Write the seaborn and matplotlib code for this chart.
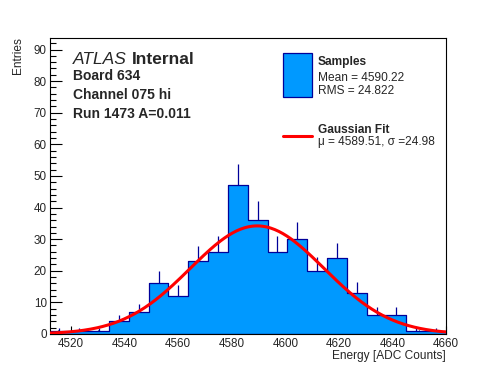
import numpy as np
import pandas as pd
import matplotlib
matplotlib.use('Agg')
import matplotlib.pyplot as plt
from matplotlib.patches import Rectangle
from matplotlib.lines import Line2D
from matplotlib.ticker import MultipleLocator
import seaborn as sns

# histogram data
x_min = 4512
x_max = 4660
n_bins = 20
entries = [1, 1, 1, 4, 7, 16, 12, 23, 26, 47, 36, 26, 30, 20, 24, 13, 6, 6, 1, 1]

# gaussian fit parameters
fit_const = 34.2
fit_mu = 4589.51
fit_sigma = 24.98

label_lines = ['Board 634', 'Channel 075 hi', 'Run 1473 A=0.011']
legend_samples = ['Samples', 'Mean = 4590.22', 'RMS = 24.822']
legend_fit = ['Gaussian Fit', '\u03bc = 4589.51, \u03c3 =24.98']

fill_col = '#0099ff'
line_col = '#000099'

W, H = 496, 372
def fx(px):
    return px / W
def fy(py):
    return 1 - py / H

sns.set_style('ticks')
plt.rcParams['font.family'] = ['Liberation Sans', 'DejaVu Sans']

edges = np.linspace(x_min, x_max, n_bins + 1)
centers = (edges[:-1] + edges[1:]) / 2
df = pd.DataFrame({'energy': centers, 'entries': entries})

fig = plt.figure(figsize=(W / 100, H / 100), dpi=100)
ax = fig.add_axes([fx(49.5), fy(334), 396.5 / W, 296.5 / H])

sns.histplot(data=df, x='energy', weights='entries', bins=n_bins, binrange=(x_min, x_max),
             element='step', fill=True, color=fill_col, edgecolor=line_col, linewidth=0.9,
             alpha=1, ax=ax)

# upper error bars (sqrt N)
err = np.sqrt(df['entries'])
ax.vlines(df['energy'], df['entries'], df['entries'] + err, color=line_col, lw=0.9, zorder=3)

# fit curve
xs = np.linspace(x_min, x_max, 300)
fit_df = pd.DataFrame({'x': xs, 'y': fit_const * np.exp(-0.5 * ((xs - fit_mu) / fit_sigma) ** 2)})
sns.lineplot(data=fit_df, x='x', y='y', color='red', lw=2.2, ax=ax, zorder=4)

ax.set_xlim(x_min, x_max)
ax.set_ylim(0, 93.8)
ax.xaxis.set_major_locator(MultipleLocator(20))
ax.xaxis.set_minor_locator(MultipleLocator(5))
ax.yaxis.set_major_locator(MultipleLocator(10))
ax.yaxis.set_minor_locator(MultipleLocator(2))
ax.tick_params(which='both', direction='in', top=False, right=False, labelsize=8.4, color='black', width=0.8)
ax.tick_params(axis='x', which='major', length=6, pad=3)
ax.tick_params(axis='x', which='minor', length=3)
ax.tick_params(axis='y', which='major', length=8.6, pad=2)
ax.tick_params(axis='y', which='minor', length=4.3)
ax.set_xlabel('')
ax.set_ylabel('')
for s in ax.spines.values():
    s.set_linewidth(0.8)
    s.set_color('black')

# axis titles, ROOT style
fig.text(fx(18), fy(37), 'Entries', rotation=90, ha='center', va='top', fontsize=8.6)
fig.text(fx(446), fy(358.5), 'Energy [ADC Counts]', ha='right', va='baseline', fontsize=8.6)

# ATLAS label
t_atlas = fig.text(fx(73), fy(64), 'ATLAS', style='italic', fontsize=12.5, va='baseline')
r = fig.canvas.get_renderer()
bb = t_atlas.get_window_extent(renderer=r)
fig.text(fx(bb.x1 + 5), fy(64), 'Internal', weight='bold', fontsize=12.5, va='baseline')
for i, t in enumerate(label_lines):
    fig.text(fx(73), fy(80.5 + 18.5 * i), t, weight='bold', fontsize=10, va='baseline')

# legend
fig.add_artist(Rectangle((fx(283.3), fy(96.7)), 28.4 / W, 43.4 / H, transform=fig.transFigure,
                         facecolor=fill_col, edgecolor=line_col, lw=0.9))
fig.add_artist(Line2D([fx(283), fx(312)], [fy(136), fy(136)], transform=fig.transFigure,
                      color='red', lw=2.2))
fig.text(fx(317.7), fy(65), legend_samples[0], weight='bold', fontsize=8.6, va='baseline')
fig.text(fx(317.7), fy(80.7), legend_samples[1], fontsize=8.6, va='baseline')
fig.text(fx(317.7), fy(94), legend_samples[2], fontsize=8.6, va='baseline')
fig.text(fx(317.7), fy(133.3), legend_fit[0], weight='bold', fontsize=8.6, va='baseline')
fig.text(fx(317.7), fy(145.5), legend_fit[1], fontsize=8.6, va='baseline')

fig.savefig('out.png', dpi=100)
